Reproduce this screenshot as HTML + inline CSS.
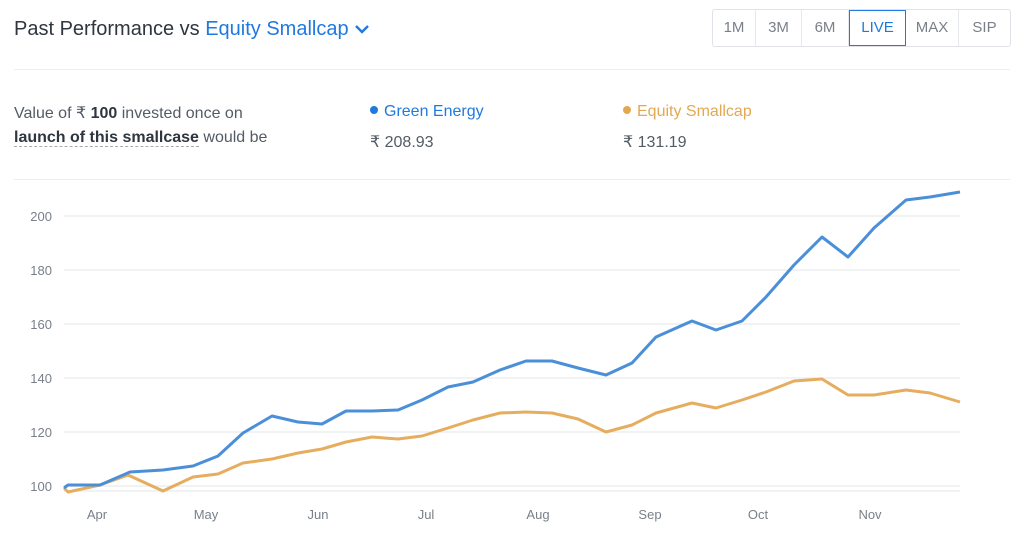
<!DOCTYPE html>
<html><head><style>
body{margin:0;width:1023px;height:554px;background:#fff;font-family:"Liberation Sans",sans-serif;position:relative;overflow:hidden;color:#2f363f}
.t{position:absolute;white-space:nowrap}
.btns{position:absolute;left:712px;top:9px;height:36px;display:flex;border:1px solid #e0e3e7;border-radius:3px}
.btns div{text-align:center;line-height:36px;font-size:15px;color:#7a8089;border-right:1px solid #e6e8eb;box-sizing:border-box}
.btns div:last-child{border-right:none}
.btns .a{color:#1f7ae0;border:1px solid #1f7ae0;line-height:34px}
</style></head><body>
<div class="t" style="left:14px;top:18px;font-size:20px;color:#2f363f">Past Performance vs <span style="color:#1f7ae0">Equity Smallcap</span> <svg width="16" height="12" viewBox="0 0 16 12"><path d="M2 3l6 6 6-6" stroke="#1f7ae0" stroke-width="2.4" fill="none"/></svg></div>
<div class="btns"><div style="width:43px">1M</div><div style="width:46px">3M</div><div style="width:47px">6M</div><div class="a" style="width:57px">LIVE</div><div style="width:53px">MAX</div><div style="width:51px">SIP</div></div>
<div style="position:absolute;left:14px;top:69px;width:996px;height:1px;background:#eceef0"></div>
<div class="t" style="left:14px;top:103px;font-size:16px;color:#535b64">Value of ₹ <b style="color:#2f363f">100</b> invested once on</div>
<div class="t" style="left:14px;top:129px;font-size:16px;color:#535b64"><span style="color:#2f363f;font-weight:bold;border-bottom:1px dashed #aaa">launch of this smallcase</span> would be</div>
<div class="t" style="left:370px;top:103px;font-size:16px;color:#1f7ae0"><span style="display:inline-block;width:8px;height:8px;border-radius:50%;background:#1f7ae0;margin-right:6px;vertical-align:2px"></span>Green Energy</div>
<div class="t" style="left:370px;top:132px;font-size:16px;color:#535b64">₹ 208.93</div>
<div class="t" style="left:623px;top:103px;font-size:16px;color:#e2a952"><span style="display:inline-block;width:8px;height:8px;border-radius:50%;background:#e2a952;margin-right:6px;vertical-align:2px"></span>Equity Smallcap</div>
<div class="t" style="left:623px;top:132px;font-size:16px;color:#535b64">₹ 131.19</div>
<div style="position:absolute;left:14px;top:179px;width:996px;height:1px;background:#eceef0"></div>
<svg style="position:absolute;left:0;top:0" width="1023" height="554">
<g stroke="#ebedef" stroke-width="1.5">
<line x1="64" x2="960" y1="216" y2="216"/><line x1="64" x2="960" y1="270" y2="270"/><line x1="64" x2="960" y1="324" y2="324"/><line x1="64" x2="960" y1="378" y2="378"/><line x1="64" x2="960" y1="432" y2="432"/><line x1="64" x2="960" y1="486" y2="486"/><line x1="64" x2="960" y1="491" y2="491"/>
</g>
<g font-size="13" fill="#7a8089" text-anchor="end">
<text x="52" y="221">200</text><text x="52" y="275">180</text><text x="52" y="329">160</text><text x="52" y="383">140</text><text x="52" y="437">120</text><text x="52" y="491">100</text>
</g>
<g font-size="13" fill="#7a8089" text-anchor="middle">
<text x="97" y="519">Apr</text><text x="206" y="519">May</text><text x="318" y="519">Jun</text><text x="426" y="519">Jul</text><text x="538" y="519">Aug</text><text x="650" y="519">Sep</text><text x="758" y="519">Oct</text><text x="870" y="519">Nov</text>
</g>
<polyline fill="none" stroke="#e6ad5f" stroke-width="3" stroke-linejoin="round" points="64,488 68,492 100,485 128,475 163,491 193,477 218,474 243,463 272,459 298,453 322,449 346,442 372,437 398,439 422,436 448,428 473,420 500,413 526,412 552,413 578,419 606,432 632,425 656,413 692,403 716,408 742,400 766,392 794,381 822,379 848,395 874,395 906,390 930,393 960,402"/>
<polyline fill="none" stroke="#4a8fd8" stroke-width="3" stroke-linejoin="round" points="64,488 68,485 100,485 130,472 163,470 193,466 218,456 243,433 272,416 298,422 322,424 346,411 372,411 398,410 422,400 448,387 473,382 500,370 526,361 552,361 578,368 606,375 632,363 656,337 692,321 716,330 742,321 766,297 794,265 822,237 848,257 874,228 906,200 930,197 960,192"/>
</svg>
</body></html>
